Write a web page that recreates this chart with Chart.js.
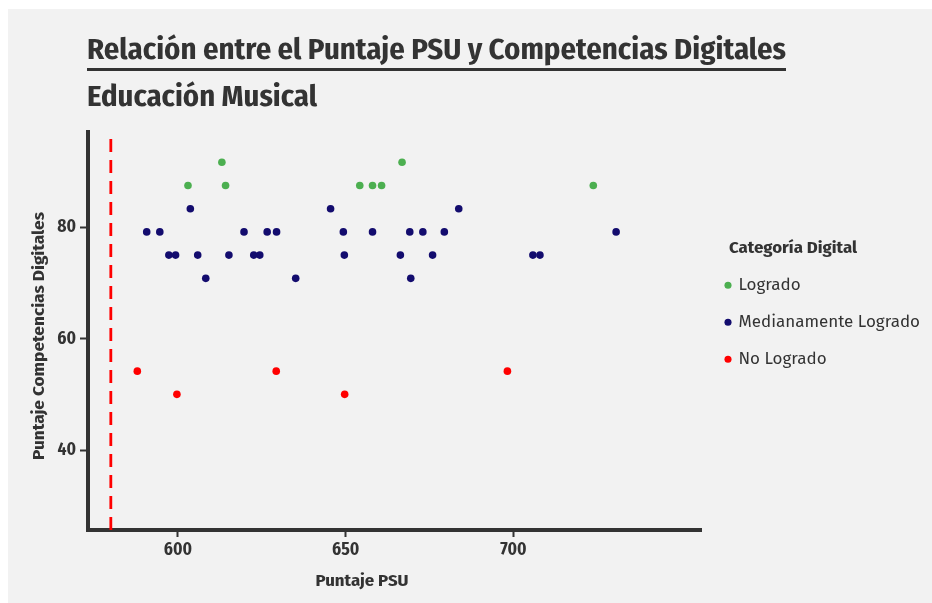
<!DOCTYPE html>
<html>
<head>
<meta charset="utf-8">
<script src="https://cdn.jsdelivr.net/npm/chart.js@4.4.1/dist/chart.umd.min.js"></script>
<style>
  body { margin: 0; background: #ffffff; }
  canvas { display: block; }
</style>
</head>
<body>
<canvas id="scatterChart" width="932" height="603"></canvas>
<script>
// datos
const categories = ['Logrado', 'Medianamente Logrado', 'No Logrado'];

const logradoPSU = [603.0, 613.1, 614.2, 654.2, 658.0, 660.7, 666.8, 723.8];
const logradoCD  = [87.5, 91.67, 87.5, 87.5, 87.5, 87.5, 91.67, 87.5];

const medioPSU = [590.7, 594.6, 597.3, 599.3, 603.7, 605.9, 608.3, 615.2, 619.7, 622.6,
                  624.4, 626.6, 629.4, 635.1, 645.5, 649.3, 649.6, 658.0, 666.3, 669.1,
                  669.4, 673.0, 675.9, 679.4, 683.7, 705.8, 707.9, 730.6];
const medioCD  = [79.17, 79.17, 75, 75, 83.33, 75, 70.83, 75, 79.17, 75,
                  75, 79.17, 79.17, 70.83, 83.33, 79.17, 75, 79.17, 75, 79.17,
                  70.83, 79.17, 75, 79.17, 83.33, 75, 75, 79.17];

const noPSU = [587.9, 599.7, 629.3, 649.7, 698.2];
const noCD  = [54.17, 50, 54.17, 50, 54.17];

const umbralPSU = 580;
const xTicks = [600, 650, 700];
const yTicks = [40, 60, 80];

const titleText = 'Relación entre el Puntaje PSU y Competencias Digitales';
const subtitleText = 'Educación Musical';
const xTitle = 'Puntaje PSU';
const yTitle = 'Puntaje Competencias Digitales';
const legendTitle = 'Categoría Digital';

const colors = ['#4caf50', '#130c6e', '#ff0000'];
const ink = '#333333';

const xMin = 573.2, xMax = 755.9;
const yMin = 25.65, yMax = 97.1;

function pickFont(list) {
  const c = document.createElement('canvas').getContext('2d');
  const probe = 'Relación Puntaje 0123456789';
  c.font = '20px monospace';
  const base = c.measureText(probe).width;
  for (const f of list) {
    c.font = '20px "' + f + '", monospace';
    if (c.measureText(probe).width !== base) return f;
  }
  return 'sans-serif';
}
const cond = pickFont(['Fira Sans Condensed', 'Liberation Sans Narrow', 'Roboto Condensed', 'DejaVu Sans Condensed']);
const regular = pickFont(['Fira Sans', 'Noto Sans', 'Open Sans']);

function toPoints(xs, ys) {
  return xs.map((x, i) => ({ x: x, y: ys[i] }));
}

// escribe texto ajustado a un ancho dado
function fitText(ctx, text, x, y, width, font, align) {
  ctx.font = font;
  const w = ctx.measureText(text).width;
  ctx.save();
  ctx.translate(x, y);
  ctx.scale(width / w, 1);
  ctx.textAlign = align || 'left';
  ctx.fillText(text, 0, 0);
  ctx.restore();
}

const decor = {
  id: 'decor',
  beforeDraw(chart) {
    const c = chart.ctx;
    c.save();
    c.fillStyle = '#ffffff';
    c.fillRect(0, 0, chart.width, chart.height);
    c.fillStyle = '#f2f2f2';
    c.fillRect(8, 9, chart.width - 8, chart.height - 9);
    c.restore();
  },
  afterDraw(chart) {
    const c = chart.ctx;
    c.save();
    c.fillStyle = ink;
    c.textBaseline = 'alphabetic';
    fitText(c, titleText, 87, 58.5, 699, 'bold 29px "' + cond + '"');
    c.fillRect(87, 68, 699, 3);
    fitText(c, subtitleText, 87, 106, 230, 'bold 29px "' + cond + '"');
    fitText(c, xTitle, 362, 585.5, 93, 'bold 16px "' + cond + '"', 'center');
    c.save();
    c.translate(43.5, 336);
    c.rotate(-Math.PI / 2);
    fitText(c, yTitle, 0, 0, 248, 'bold 16px "' + cond + '"', 'center');
    c.restore();
    fitText(c, legendTitle, 729, 253, 128, 'bold 17px "' + cond + '"');
    c.restore();
  }
};

// coloca la leyenda a la derecha del panel
const legendPlacer = {
  id: 'legendPlacer',
  afterLayout(chart) {
    const lg = chart.legend;
    const pad = lg.options.labels.padding;
    const half = lg.options.labels.font.size / 2;
    const left = 726 - pad;
    const top = 285.3 - half - pad;
    const h = lg.height;
    const w = lg.width;
    lg.left = left; lg.right = left + w;
    lg.top = top; lg.bottom = top + h;
  }
};

const tickFont = { family: cond, size: 17.5, weight: 'bold' };

new Chart(document.getElementById('scatterChart'), {
  type: 'scatter',
  data: {
    datasets: [
      { label: categories[0], data: toPoints(logradoPSU, logradoCD), backgroundColor: colors[0], borderColor: colors[0], borderWidth: 0, pointRadius: 3.8, pointStyle: 'circle' },
      { label: categories[1], data: toPoints(medioPSU, medioCD), backgroundColor: colors[1], borderColor: colors[1], borderWidth: 0, pointRadius: 3.8, pointStyle: 'circle' },
      { label: categories[2], data: toPoints(noPSU, noCD), backgroundColor: colors[2], borderColor: colors[2], borderWidth: 0, pointRadius: 3.8, pointStyle: 'circle' },
      {
        label: 'umbral',
        type: 'line',
        data: [{ x: umbralPSU, y: yMin }, { x: umbralPSU, y: yMax }],
        showLine: true,
        borderColor: '#ff0000',
        borderWidth: 2.8,
        borderDash: [13, 8],
        pointRadius: 0,
        fill: false
      }
    ]
  },
  options: {
    responsive: false,
    animation: false,
    events: [],
    layout: { padding: { left: 0, top: 132, right: 231, bottom: 0 } },
    scales: {
      x: {
        type: 'linear',
        min: xMin,
        max: xMax,
        afterBuildTicks: (scale) => { scale.ticks = xTicks.map(v => ({ value: v })); },
        afterFit: (scale) => { scale.height = 73; },
        grid: { display: true, drawOnChartArea: false, drawTicks: true, tickLength: 7, tickWidth: 2, tickColor: ink },
        border: { display: true, width: 4, color: ink },
        ticks: { autoSkip: false, maxRotation: 0, padding: 3, color: ink, font: tickFont }
      },
      y: {
        type: 'linear',
        min: yMin,
        max: yMax,
        afterBuildTicks: (scale) => { scale.ticks = yTicks.map(v => ({ value: v })); },
        afterFit: (scale) => { scale.width = 88; },
        grid: { display: true, drawOnChartArea: false, drawTicks: true, tickLength: 8, tickWidth: 2, tickColor: ink },
        border: { display: true, width: 4, color: ink },
        ticks: { autoSkip: false, padding: 4, color: ink, font: tickFont }
      }
    },
    plugins: {
      title: { display: false },
      tooltip: { enabled: false },
      legend: {
        display: true,
        position: 'chartArea',
        align: 'start',
        labels: {
          usePointStyle: true,
          boxWidth: 4,
          boxHeight: 5,
          padding: 20,
          color: ink,
          font: { family: regular, size: 17 },
          filter: (item) => item.datasetIndex < 3
        }
      }
    }
  },
  plugins: [decor, legendPlacer]
});
</script>
</body>
</html>
